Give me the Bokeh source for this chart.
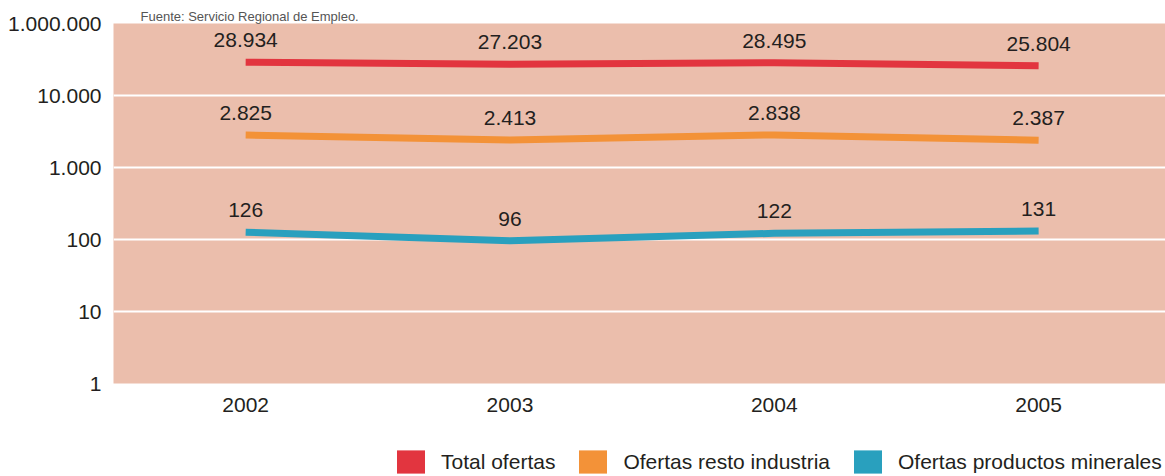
from bokeh.plotting import figure
from bokeh.layouts import column
from bokeh.models import (FixedTicker, Legend, LegendItem, Title, ColumnDataSource, Range1d)
from bokeh.core.properties import value
from bokeh.embed import file_html
from bokeh.resources import INLINE

# ---- data ----
years = [2002, 2003, 2004, 2005]
total_ofertas = [28934, 27203, 28495, 25804]
resto_industria = [2825, 2413, 2838, 2387]
productos_minerales = [126, 96, 122, 131]
y_ticks = [1, 10, 100, 1000, 10000, 100000]
y_tick_labels = ["1", "10", "100", "1.000", "10.000", "1.000.000"]
series_names = ["Total ofertas", "Ofertas resto industria", "Ofertas productos minerales"]
source_text = "Fuente: Servicio Regional de Empleo."

colors = ["#E2353F", "#F39238", "#29A0BE"]
FONT = "Liberation Sans"
TXT = "#231F20"
NAN = float("nan")


def fmt(v):
    return f"{v:,}".replace(",", ".")


p = figure(width=1165, height=440, output_backend="svg", toolbar_location=None,
           y_axis_type="log", x_range=Range1d(2001.5, 2005.48), y_range=Range1d(1, 100000),
           min_border_left=113, min_border_right=0, min_border_top=23, min_border_bottom=57)
p.background_fill_color = "#EBBEAC"
p.border_fill_color = "white"
p.outline_line_color = None

p.title = Title(text=source_text, align="left", offset=27, standoff=0,
                text_font=FONT, text_font_size="13px", text_font_style="normal",
                text_color="#555555")

# axes
p.yaxis.ticker = FixedTicker(ticks=y_ticks, minor_ticks=[])
p.yaxis.major_label_overrides = {t: l for t, l in zip(y_ticks, y_tick_labels)}
p.xaxis.ticker = FixedTicker(ticks=years, minor_ticks=[])
for ax in (p.xaxis, p.yaxis):
    ax.axis_line_color = None
    ax.major_tick_line_color = None
    ax.minor_tick_line_color = None
    ax.major_label_text_font = FONT
    ax.major_label_text_font_size = "21px"
    ax.major_label_text_color = TXT
p.yaxis.major_label_standoff = 6
p.xaxis.major_label_standoff = 8

p.xgrid.grid_line_color = None
p.ygrid.grid_line_color = "white"
p.ygrid.grid_line_width = 2
p.ygrid.minor_grid_line_color = None

for vals, col in zip([total_ofertas, resto_industria, productos_minerales], colors):
    src = ColumnDataSource(dict(x=years, y=vals, lab=[fmt(v) for v in vals]))
    p.line("x", "y", source=src, line_color=col, line_width=7, line_cap="butt", line_join="round")
    p.text("x", "y", text="lab", source=src, text_align="center", text_baseline="alphabetic",
           y_offset=-22, text_font=value(FONT), text_font_size="21px", text_color=TXT)

# legend strip
lg = figure(width=1165, height=36, output_backend="svg", toolbar_location=None,
            x_axis_location=None, y_axis_location=None,
            x_range=Range1d(0, 1), y_range=Range1d(0, 1),
            min_border_left=0, min_border_right=0, min_border_top=0, min_border_bottom=0)
lg.outline_line_color = None
lg.xgrid.visible = False
lg.ygrid.visible = False
renderers = []
for col in colors:
    renderers.append(lg.quad(left=[NAN], right=[NAN], top=[NAN], bottom=[NAN],
                             fill_color=col, line_color=None))

legend = Legend(items=[LegendItem(label=n, renderers=[r]) for n, r in zip(series_names, renderers)],
                orientation="horizontal", location=(280, 0),
                glyph_width=35, glyph_height=29, label_height=29, label_standoff=13,
                spacing=20, padding=0, margin=0,
                label_text_font=FONT, label_text_font_size="21px", label_text_color=TXT,
                background_fill_alpha=0, border_line_color=None)
lg.add_layout(legend, "center")

layout = column(p, lg, spacing=0)
open("out.html", "w").write(file_html(layout, INLINE))
